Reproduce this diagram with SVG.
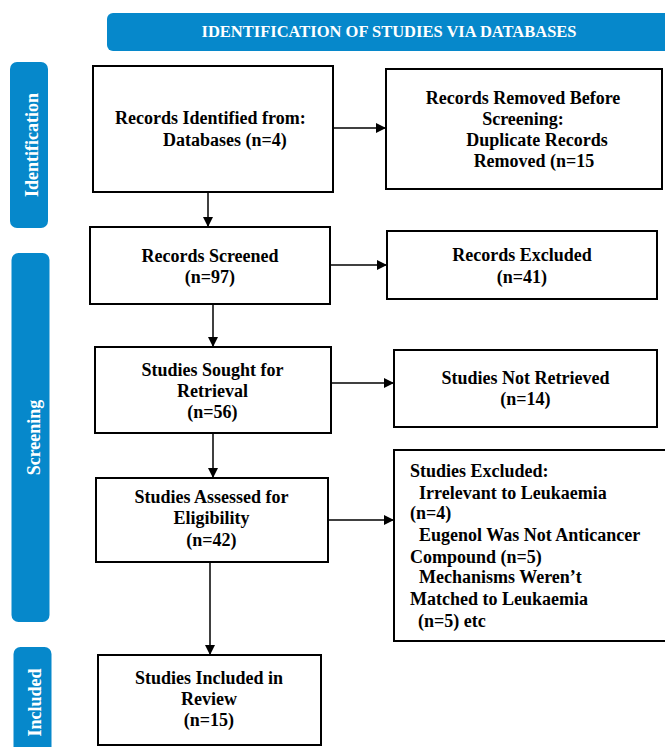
<svg xmlns="http://www.w3.org/2000/svg" width="665" height="747" viewBox="0 0 665 747">
<style>
.band{fill:#0688cb;}
.bt{font-family:"Liberation Serif","Times New Roman",serif;font-weight:bold;fill:#ffffff;}
.box{fill:#ffffff;stroke:#000000;stroke-width:2;}
.t{font-family:"Liberation Serif","Times New Roman",serif;font-weight:bold;font-size:18px;fill:#000000;}
.c{text-anchor:middle;}
.ln{stroke:#000000;stroke-width:1.5;fill:none;marker-end:url(#ah);}
</style>
<defs>
<marker id="ah" viewBox="0 0 10 10" refX="10" refY="5" markerWidth="10" markerHeight="10" markerUnits="userSpaceOnUse" orient="auto">
<path d="M0,0 L10,5 L0,10 z" fill="#000000"/>
</marker>
</defs>
<rect width="665" height="747" fill="#ffffff"/>

<g id="header">
<rect class="band" x="107" y="13" width="570" height="38" rx="6"/>
<text class="bt c" x="389" y="37" font-size="16.5">IDENTIFICATION OF STUDIES VIA DATABASES</text>
</g>

<g id="phase-identification">
<rect class="band" x="10" y="62" width="38" height="166" rx="7"/>
<text class="bt c" font-size="18" transform="translate(37.5,145) rotate(-90)">Identification</text>
</g>
<g id="phase-screening">
<rect class="band" x="11.5" y="253" width="38" height="369" rx="7"/>
<text class="bt c" font-size="18" transform="translate(40,437.5) rotate(-90)">Screening</text>
</g>
<g id="phase-included">
<rect class="band" x="13.5" y="647" width="38" height="120" rx="7"/>
<text class="bt c" font-size="18" transform="translate(41,702.5) rotate(-90)">Included</text>
</g>

<g id="connectors">
<line class="ln" x1="333" y1="128" x2="386" y2="128"/>
<line class="ln" x1="208" y1="192" x2="208" y2="227"/>
<line class="ln" x1="330" y1="265" x2="387" y2="265"/>
<line class="ln" x1="213" y1="304" x2="213" y2="347"/>
<line class="ln" x1="331" y1="383" x2="394" y2="383"/>
<line class="ln" x1="213" y1="433" x2="213" y2="478"/>
<line class="ln" x1="328" y1="520" x2="394" y2="520"/>
<line class="ln" x1="210" y1="562" x2="210" y2="655"/>
</g>

<g id="records-identified">
<rect class="box" x="93" y="66" width="240" height="126"/>
<text class="t" x="115" y="124">Records Identified from:</text>
<text class="t" x="163" y="146">Databases (n=4)</text>
</g>

<g id="records-removed">
<rect class="box" x="386" y="69" width="276" height="120"/>
<text class="t c" x="523" y="104">Records Removed Before</text>
<text class="t c" x="523" y="125">Screening:</text>
<text class="t c" x="537" y="146">Duplicate Records</text>
<text class="t c" x="534" y="167">Removed (n=15</text>
</g>

<g id="records-screened">
<rect class="box" x="90" y="227" width="240" height="77"/>
<text class="t c" x="210" y="262">Records Screened</text>
<text class="t c" x="210" y="283">(n=97)</text>
</g>

<g id="records-excluded">
<rect class="box" x="387" y="231" width="270" height="68"/>
<text class="t c" x="522" y="261">Records Excluded</text>
<text class="t c" x="522" y="283">(n=41)</text>
</g>

<g id="studies-sought">
<rect class="box" x="95" y="347" width="236" height="86"/>
<text class="t c" x="212.5" y="376">Studies Sought for</text>
<text class="t c" x="212.5" y="397">Retrieval</text>
<text class="t c" x="212.5" y="418">(n=56)</text>
</g>

<g id="studies-not-retrieved">
<rect class="box" x="394" y="350" width="263" height="77"/>
<text class="t c" x="525.5" y="384">Studies Not Retrieved</text>
<text class="t c" x="525.5" y="405">(n=14)</text>
</g>

<g id="studies-assessed">
<rect class="box" x="96" y="478" width="232" height="84"/>
<text class="t c" x="211.5" y="503">Studies Assessed for</text>
<text class="t c" x="211.5" y="524">Eligibility</text>
<text class="t c" x="211.5" y="546">(n=42)</text>
</g>

<g id="studies-excluded">
<rect class="box" x="394" y="450" width="280" height="191"/>
<text class="t" x="410" y="477">Studies Excluded:</text>
<text class="t" x="419" y="499">Irrelevant to Leukaemia</text>
<text class="t" x="410" y="519">(n=4)</text>
<text class="t" x="419" y="541">Eugenol Was Not Anticancer</text>
<text class="t" x="410" y="563">Compound (n=5)</text>
<text class="t" x="419" y="583">Mechanisms Weren’t</text>
<text class="t" x="410" y="605">Matched to Leukaemia</text>
<text class="t" x="418" y="627">(n=5) etc</text>
</g>

<g id="studies-included">
<rect class="box" x="98" y="655" width="223" height="90"/>
<text class="t c" x="209" y="684">Studies Included in</text>
<text class="t c" x="209" y="705">Review</text>
<text class="t c" x="209" y="726">(n=15)</text>
</g>
</svg>
